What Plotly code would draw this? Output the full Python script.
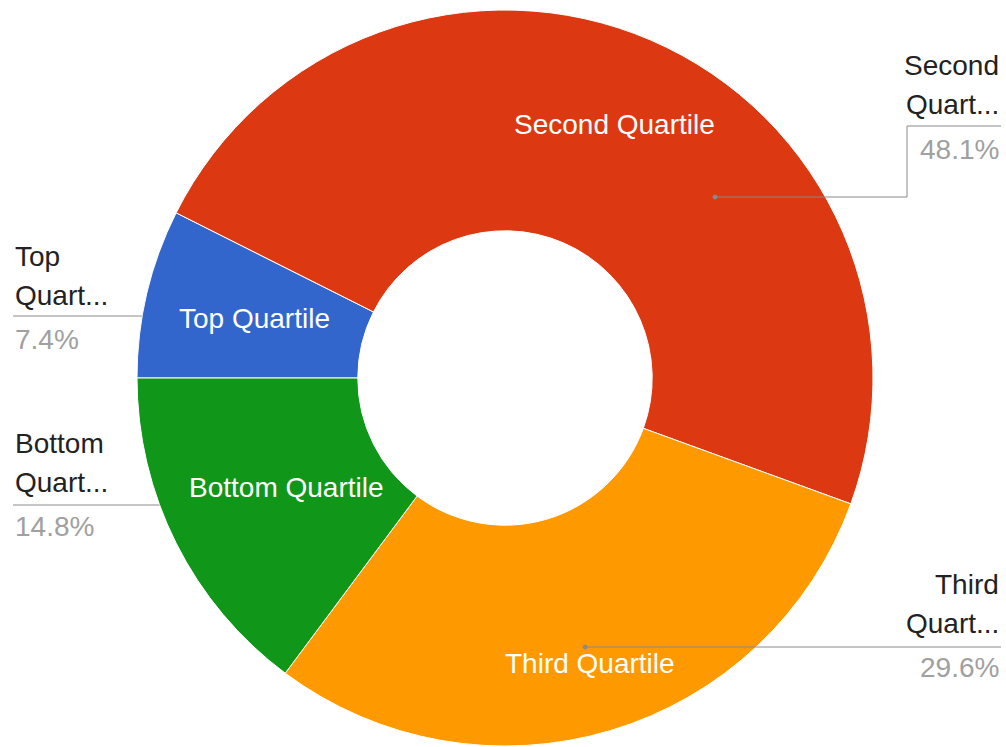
import math
import plotly.graph_objects as go

# Quartile breakdown (counts)
labels = ["Top Quartile", "Second Quartile", "Third Quartile", "Bottom Quartile"]
values = [2, 13, 8, 4]
colors = ["#3366cc", "#dc3912", "#ff9900", "#109618"]

# Canvas and donut geometry (pixels)
W, H = 1006, 747
CX, CY, R = 505, 378, 368
HOLE = 0.4
START = 270  # first slice starts at 9 o'clock, clockwise

# Radial position (fraction of outer radius) of each in-slice label
label_r = [0.70, 0.75, 0.81, 0.665]

FONT = "Liberation Sans, Arial, sans-serif"
FONT_SIZE = 28
NAME_COLOR = "#222222"
PCT_COLOR = "#a0a0a0"
LINE_COLOR = "#8a8a8a"


def px(x):
    return x / W


def py(y):
    return 1 - y / H


fig = go.Figure(
    go.Pie(
        labels=labels,
        values=values,
        sort=False,
        direction="clockwise",
        rotation=START,
        hole=HOLE,
        textinfo="none",
        marker=dict(colors=colors, line=dict(color="white", width=1)),
        domain=dict(x=[px(CX - R), px(CX + R)], y=[py(CY + R), py(CY - R)]),
        showlegend=False,
    )
)

total = sum(values)
annotations = []
shapes = []

# Slice names inside the ring, at each slice's mid-angle
cum = 0
mids = []
for lab, v, rf in zip(labels, values, label_r):
    mid = math.radians(START + (cum + v / 2) / total * 360)
    cum += v
    mids.append(mid)
    x = CX + rf * R * math.sin(mid)
    y = CY - rf * R * math.cos(mid)
    annotations.append(dict(
        x=px(x), y=py(y), xref="paper", yref="paper", text=lab, showarrow=False,
        xanchor="center", yanchor="middle",
        font=dict(family=FONT, size=FONT_SIZE, color="white"),
    ))

# Outside callouts: name (two lines, truncated) and percentage
callouts = {
    # index: (side, x, y of first line, y of leader line)
    0: ("left", 13, 256, 316),
    3: ("left", 13, 443, 505),
    1: ("right", 1001, 66, 126),
    2: ("right", 1001, 584, 647),
}
LINE_GAP = 39
PCT_GAP = 83

for i, (side, x, y0, ly) in callouts.items():
    first, second = labels[i].split()
    pct = f"{values[i] / total * 100:.1f}%"
    anchor = "left" if side == "left" else "right"
    for text, y, col in [(first, y0, NAME_COLOR),
                         (second[:5] + "...", y0 + LINE_GAP, NAME_COLOR),
                         (pct, y0 + PCT_GAP, PCT_COLOR)]:
        annotations.append(dict(
            x=px(x), y=py(y), xref="paper", yref="paper", text=text,
            showarrow=False, xanchor=anchor, yanchor="middle", align=anchor,
            font=dict(family=FONT, size=FONT_SIZE, color=col),
        ))

line_style = dict(color=LINE_COLOR, width=1)

# Left leader lines run from the text margin to the outer edge of the slice
for i in (0, 3):
    ly = callouts[i][3]
    edge_x = CX - math.sqrt(R ** 2 - (ly - CY) ** 2)
    shapes.append(dict(type="line", xref="paper", yref="paper",
                       x0=px(13), y0=py(ly), x1=px(edge_x), y1=py(ly), line=line_style))

# Right leader lines start from an anchor point inside the slice
second_anchor = (715, 197)
third_anchor = (CX + 0.76 * R * math.sin(mids[2]), CY - 0.76 * R * math.cos(mids[2]))

sx, sy = second_anchor
ly = callouts[1][3]
path = (f"M {px(sx)} {py(sy)} L {px(907)} {py(sy)} "
        f"L {px(907)} {py(ly)} L {px(1001)} {py(ly)}")
shapes.append(dict(type="path", xref="paper", yref="paper", path=path, line=line_style))

tx, ty = third_anchor
ly = callouts[2][3]
shapes.append(dict(type="line", xref="paper", yref="paper",
                   x0=px(tx), y0=py(ly), x1=px(1001), y1=py(ly), line=line_style))

for ax, ay in (second_anchor, (tx, ly)):
    shapes.append(dict(type="circle", xref="paper", yref="paper",
                       x0=px(ax - 2), x1=px(ax + 2), y0=py(ay + 2), y1=py(ay - 2),
                       line=dict(color=LINE_COLOR, width=1), fillcolor=LINE_COLOR))

fig.update_layout(
    width=W, height=H,
    margin=dict(l=0, r=0, t=0, b=0),
    paper_bgcolor="white", plot_bgcolor="white",
    annotations=annotations, shapes=shapes,
)

fig.write_html("out.html")
